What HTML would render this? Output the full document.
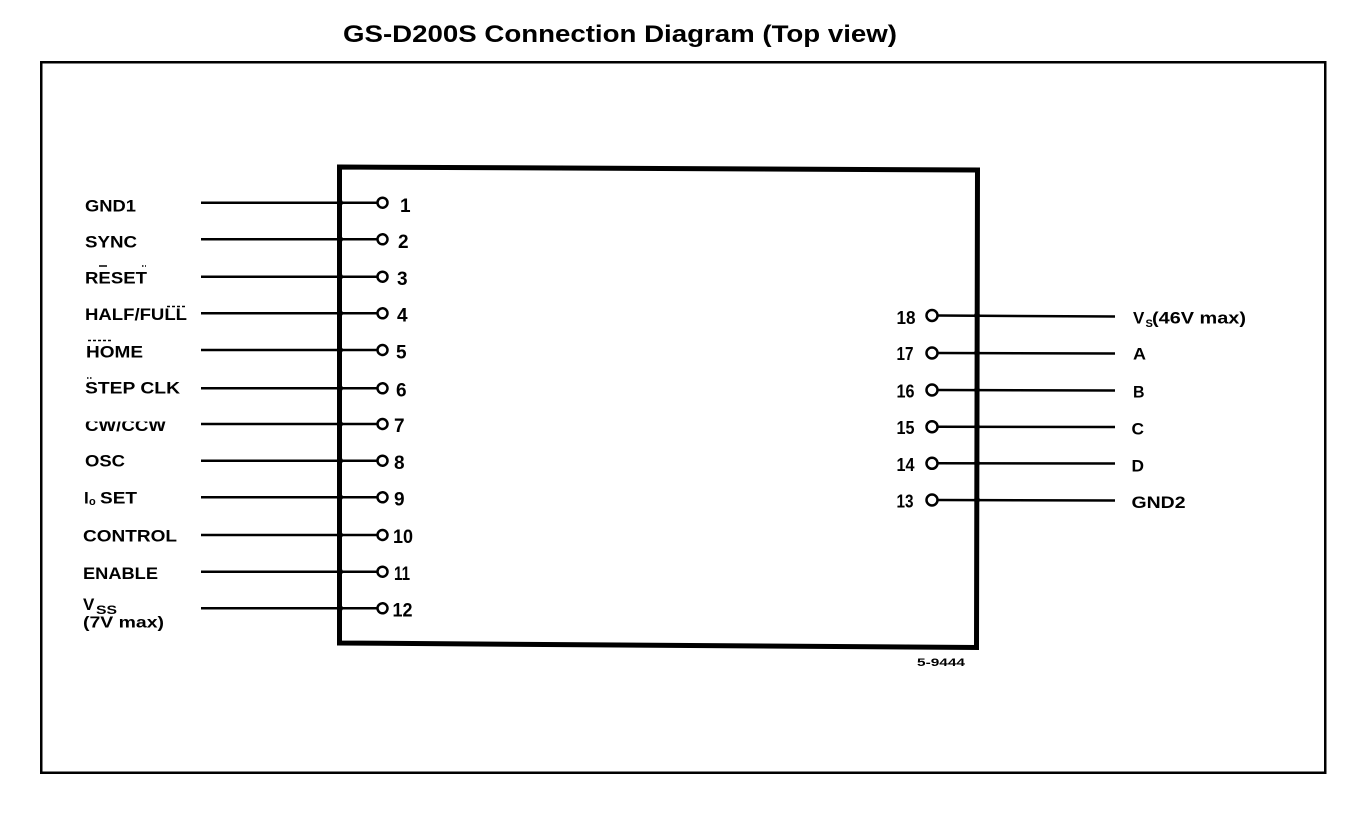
<!DOCTYPE html>
<html>
<head>
<meta charset="utf-8">
<style>
  html, body { margin:0; padding:0; background:#fff; }
  svg { display:block; }
  text { font-family: "Liberation Sans", Arial, sans-serif; fill:#000; }
</style>
</head>
<body>
<svg width="1371" height="816" viewBox="0 0 1371 816" xmlns="http://www.w3.org/2000/svg">
  <defs>
    <clipPath id="cwclip"><rect x="60" y="421.5" width="150" height="20"/></clipPath>
  </defs>

  <!-- Title -->
  <text x="343" y="42" font-size="24" font-weight="bold" textLength="554" lengthAdjust="spacingAndGlyphs">GS-D200S Connection Diagram (Top view)</text>

  <!-- Outer frame -->
  <rect x="41.25" y="62.25" width="1284" height="710.5" fill="none" stroke="#000" stroke-width="2.5"/>

  <!-- IC body -->
  <polygon points="339.5,167 977.5,170 976.5,647.5 339.5,643" fill="none" stroke="#000" stroke-width="5" stroke-linejoin="miter"/>

  <!-- Left pins -->
  <g stroke="#000" stroke-width="2.5" fill="none">
    <line x1="201" y1="202.7" x2="377" y2="202.7"/>
    <line x1="201" y1="239.3" x2="377" y2="239.3"/>
    <line x1="201" y1="276.7" x2="377" y2="276.7"/>
    <line x1="201" y1="313.3" x2="377" y2="313.3"/>
    <line x1="201" y1="350" x2="377" y2="350"/>
    <line x1="201" y1="388.3" x2="377" y2="388.3"/>
    <line x1="201" y1="424" x2="377" y2="424"/>
    <line x1="201" y1="460.7" x2="377" y2="460.7"/>
    <line x1="201" y1="497.3" x2="377" y2="497.3"/>
    <line x1="201" y1="535" x2="377" y2="535"/>
    <line x1="201" y1="571.7" x2="377" y2="571.7"/>
    <line x1="201" y1="608.3" x2="377" y2="608.3"/>

    <circle cx="382.5" cy="202.7" r="5"/>
    <circle cx="382.5" cy="239.3" r="5"/>
    <circle cx="382.5" cy="276.7" r="5"/>
    <circle cx="382.5" cy="313.3" r="5"/>
    <circle cx="382.5" cy="350" r="5"/>
    <circle cx="382.5" cy="388.3" r="5"/>
    <circle cx="382.5" cy="424" r="5"/>
    <circle cx="382.5" cy="460.7" r="5"/>
    <circle cx="382.5" cy="497.3" r="5"/>
    <circle cx="382.5" cy="535" r="5"/>
    <circle cx="382.5" cy="571.7" r="5"/>
    <circle cx="382.5" cy="608.3" r="5"/>
  </g>
  <g fill="#000">
    <circle cx="340" cy="202.7" r="3"/>
    <circle cx="340" cy="239.3" r="3"/>
    <circle cx="340" cy="276.7" r="3"/>
    <circle cx="340" cy="313.3" r="3"/>
    <circle cx="340" cy="350" r="3"/>
    <circle cx="340" cy="388.3" r="3"/>
    <circle cx="340" cy="424" r="3"/>
    <circle cx="340" cy="460.7" r="3"/>
    <circle cx="340" cy="497.3" r="3"/>
    <circle cx="340" cy="535" r="3"/>
    <circle cx="340" cy="571.7" r="3"/>
    <circle cx="340" cy="608.3" r="3"/>
  </g>

  <!-- Left pin numbers -->
  <g font-size="19" font-weight="bold">
    <text x="400" y="212">1</text>
    <text x="398" y="248">2</text>
    <text x="397" y="285">3</text>
    <text x="397" y="321.5">4</text>
    <text x="396" y="358.5">5</text>
    <text x="396" y="396.5">6</text>
    <text x="394" y="432">7</text>
    <text x="394" y="469">8</text>
    <text x="394" y="505.5">9</text>
    <text x="393" y="543" textLength="20" lengthAdjust="spacingAndGlyphs">10</text>
    <text x="394" y="580" textLength="16" lengthAdjust="spacingAndGlyphs">11</text>
    <text x="392.5" y="616.5" textLength="20" lengthAdjust="spacingAndGlyphs">12</text>
  </g>

  <!-- Left labels -->
  <g font-size="17" font-weight="bold">
    <text x="85" y="211.7" textLength="51" lengthAdjust="spacingAndGlyphs">GND1</text>
    <text x="85" y="247.3" textLength="52" lengthAdjust="spacingAndGlyphs">SYNC</text>
    <text x="85" y="283.3" textLength="62" lengthAdjust="spacingAndGlyphs">RESET</text>
    <text x="85" y="320" textLength="102" lengthAdjust="spacingAndGlyphs">HALF/FULL</text>
    <text x="86" y="357.3" textLength="57" lengthAdjust="spacingAndGlyphs">HOME</text>
    <text x="85" y="393.3" textLength="95" lengthAdjust="spacingAndGlyphs">STEP CLK</text>
    <text x="85" y="431" textLength="81" lengthAdjust="spacingAndGlyphs" clip-path="url(#cwclip)">CW/CCW</text>
    <text x="85" y="466.7" textLength="40" lengthAdjust="spacingAndGlyphs">OSC</text>
    <text x="84" y="503.3">I</text>
    <text x="89" y="505" font-size="11">o</text>
    <text x="100" y="503.3" textLength="37" lengthAdjust="spacingAndGlyphs">SET</text>
    <text x="83" y="541.7" textLength="94" lengthAdjust="spacingAndGlyphs">CONTROL</text>
    <text x="83" y="579" textLength="75" lengthAdjust="spacingAndGlyphs">ENABLE</text>
    <text x="83" y="610" font-size="17">V</text>
    <text x="96" y="614" font-size="12" textLength="21" lengthAdjust="spacingAndGlyphs">SS</text>
    <text x="83" y="627.5" font-size="16" textLength="81" lengthAdjust="spacingAndGlyphs">(7V max)</text>
  </g>

  <!-- Overbars / marks -->
  <g stroke="#000" stroke-width="1.5">
    <line x1="99" y1="266" x2="107" y2="266"/>
    <line x1="142" y1="266" x2="146" y2="266" stroke-dasharray="1.5 1.5"/>
    <line x1="167" y1="306.5" x2="187" y2="306.5" stroke-dasharray="3 2"/>
    <line x1="88" y1="340.5" x2="113" y2="340.5" stroke-dasharray="3 2"/>
    <line x1="87" y1="378" x2="93" y2="378" stroke-dasharray="1.5 1.5"/>
  </g>

  <!-- Right pins -->
  <g stroke="#000" stroke-width="2.5" fill="none">
    <line x1="937" y1="315.5" x2="1115" y2="316.5"/>
    <line x1="937" y1="353" x2="1115" y2="353.5"/>
    <line x1="937" y1="390" x2="1115" y2="390.5"/>
    <line x1="937" y1="426.7" x2="1115" y2="427"/>
    <line x1="937" y1="463.3" x2="1115" y2="463.5"/>
    <line x1="937" y1="500" x2="1115" y2="500.5"/>

    <circle cx="932" cy="315.5" r="5.5"/>
    <circle cx="932" cy="353" r="5.5"/>
    <circle cx="932" cy="390" r="5.5"/>
    <circle cx="932" cy="426.7" r="5.5"/>
    <circle cx="932" cy="463.3" r="5.5"/>
    <circle cx="932" cy="500" r="5.5"/>
  </g>
  <g fill="#000">
    <circle cx="977" cy="315.5" r="3"/>
    <circle cx="977" cy="353" r="3"/>
    <circle cx="977" cy="390" r="3"/>
    <circle cx="977" cy="426.7" r="3"/>
    <circle cx="977" cy="463.3" r="3"/>
    <circle cx="977" cy="500" r="3"/>
  </g>

  <!-- Right pin numbers -->
  <g font-size="18" font-weight="bold">
    <text x="896.5" y="324" textLength="19" lengthAdjust="spacingAndGlyphs">18</text>
    <text x="896.5" y="360" textLength="17" lengthAdjust="spacingAndGlyphs">17</text>
    <text x="896.5" y="397.5" textLength="18" lengthAdjust="spacingAndGlyphs">16</text>
    <text x="896.5" y="434" textLength="18" lengthAdjust="spacingAndGlyphs">15</text>
    <text x="896.5" y="471" textLength="18" lengthAdjust="spacingAndGlyphs">14</text>
    <text x="896.5" y="507.7" textLength="17" lengthAdjust="spacingAndGlyphs">13</text>
  </g>

  <!-- Right labels -->
  <g font-size="17" font-weight="bold">
    <text x="1133" y="323.5">V</text>
    <text x="1145.5" y="327" font-size="11">S</text>
    <text x="1152" y="323.5" textLength="94" lengthAdjust="spacingAndGlyphs">(46V max)</text>
    <text x="1133" y="359.5" textLength="13" lengthAdjust="spacingAndGlyphs">A</text>
    <text x="1133" y="397.5" textLength="11.5" lengthAdjust="spacingAndGlyphs">B</text>
    <text x="1131.5" y="434.5" textLength="12.5" lengthAdjust="spacingAndGlyphs">C</text>
    <text x="1131.5" y="471.5" textLength="12.5" lengthAdjust="spacingAndGlyphs">D</text>
    <text x="1131.5" y="508" textLength="54" lengthAdjust="spacingAndGlyphs">GND2</text>
  </g>

  <!-- Drawing number -->
  <text x="917" y="666" font-size="11" font-weight="bold" textLength="48" lengthAdjust="spacingAndGlyphs">5-9444</text>
</svg>
</body>
</html>
